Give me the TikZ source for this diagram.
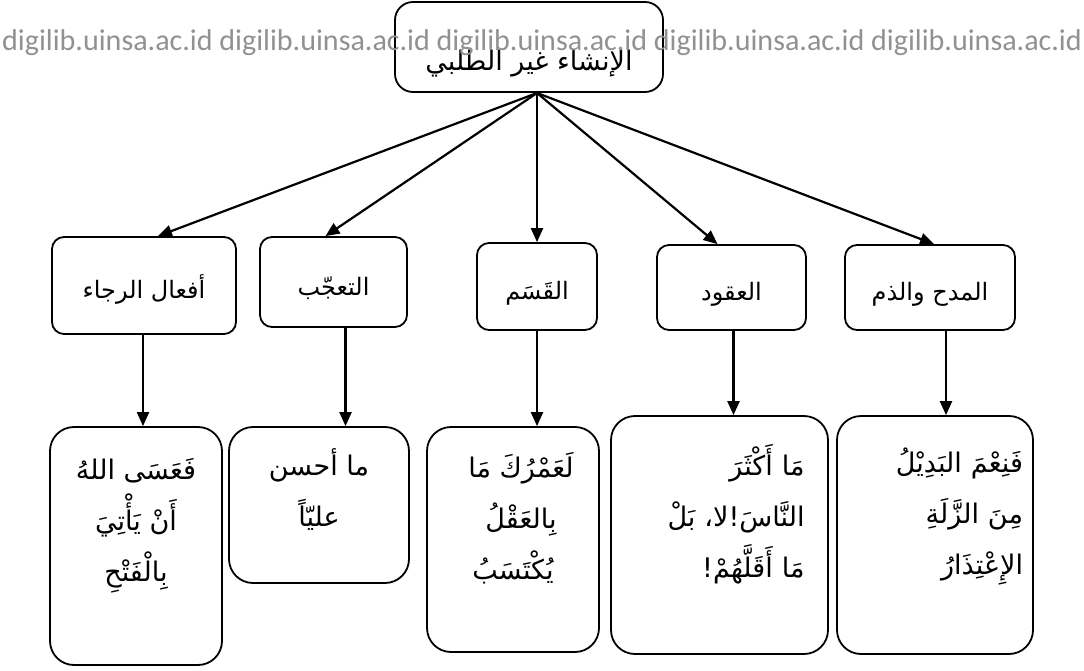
\documentclass[tikz,border=0pt]{standalone}
\usepackage{fontspec}
\usepackage{graphicx}
\usetikzlibrary{arrows.meta}
\TeXXeTstate=1
\newfontfamily\arabicfont[Script=Arabic]{DejaVu Sans}
\newfontfamily\wmfont{Carlito}
\definecolor{wmgray}{RGB}{145,145,145}
\newcommand{\lift}[1]{\rule[-#1]{0pt}{0pt}}
\begin{document}
\begin{tikzpicture}[x=1pt,y=-1pt,
  box/.style={draw, line width=1.8pt, rounded corners=12pt, inner sep=0pt, align=center,
    font=\arabicfont\fontsize{24}{30}\selectfont, text height=30pt, text depth=4pt},
  bigbox/.style={draw, line width=1.8pt, rounded corners=24pt, inner sep=0pt,
    font=\arabicfont\fontsize{27}{51}\selectfont},
  arr/.style={line width=2.2pt, -{Triangle[length=14pt,width=12pt]}},
  wm/.style={inner sep=0pt, text=wmgray, font=\wmfont},
]
\useasboundingbox (0,0) rectangle (1084,671);

% top
\node[box, rounded corners=18pt, minimum width=268pt, minimum height=90pt,
  font=\arabicfont\fontsize{27}{30}\selectfont, text height=58pt, text depth=10pt] (top) at (529,47)
  {\beginR الإنشاء غير الطلبي\endR};
\coordinate (hub) at (537,93);

% middle row
\node[box, minimum width=184pt, minimum height=97pt] (m1) at (144,285.5) {\beginR أفعال الرجاء\endR};
\node[box, minimum width=147pt, minimum height=90pt] (m2) at (333.5,282) {\beginR التعجّب\endR};
\node[box, minimum width=120pt, minimum height=87pt] (m3) at (537,286.5) {\beginR القَسَم\endR};
\node[box, minimum width=149pt, minimum height=85pt] (m4) at (731.5,287.5) {\beginR العقود\endR};
\node[box, minimum width=170pt, minimum height=85pt] (m5) at (930,287.5) {\beginR المدح والذم\endR};

% bottom row
\node[bigbox, align=center, minimum width=172pt, minimum height=238pt] (b1) at (136,546)
  {\beginR فَعَسَى اللهُ\endR\\\beginR أَنْ يَأْتِيَ\endR\\\beginR بِالْفَتْحِ\endR\lift{52pt}};
\node[bigbox, align=center, minimum width=180pt, minimum height=156pt] (b2) at (319,505)
  {\beginR ما أحسن\endR\\\beginR عليّاً\endR\lift{34pt}};
\node[bigbox, align=center, minimum width=172pt, minimum height=225pt] (b3) at (513,539.5)
  {\hspace*{16pt}\beginR لَعَمْرُكَ مَا\endR\\\hspace*{16pt}\beginR بِالعَقْلُ\endR\\\beginR يُكْتَسَبُ\endR\lift{48pt}};
\node[bigbox, align=right, text width=170pt, minimum width=217pt, minimum height=238pt] (b4) at (719.5,535)
  {\beginR مَا أَكْثَرَ\endR\\\beginR النَّاسَ!لا، بَلْ\endR\\\beginR مَا أَقَلَّهُمْ!\endR\lift{48pt}};
\node[bigbox, align=right, text width=176pt, minimum width=196pt, minimum height=238pt] (b5) at (935,535)
  {\beginR فَنِعْمَ البَدِيْلُ\endR\\\beginR مِنَ الزَّلَةِ\endR\\\beginR الإِعْتِذَارُ\endR\lift{48pt}};

% connectors from top
\draw[arr] (hub) -- ([xshift=14pt]m1.north);
\draw[arr] (hub) -- ([xshift=-8pt]m2.north);
\draw[arr] (hub) -- (m3.north);
\draw[arr] (hub) -- ([xshift=-14pt]m4.north);
\draw[arr] (hub) -- ([xshift=4pt]m5.north);

% connectors down
\draw[arr] ([xshift=-1pt]m1.south) -- ([xshift=-1pt]m1.south |- b1.north);
\draw[arr] ([xshift=12pt]m2.south) -- ([xshift=12pt]m2.south |- b2.north);
\draw[arr] (m3.south) -- (m3.south |- b3.north);
\draw[arr] ([xshift=2pt]m4.south) -- ([xshift=2pt]m4.south |- b4.north);
\draw[arr] ([xshift=16pt]m5.south) -- ([xshift=16pt]m5.south |- b5.north);

% watermark
\node[wm, anchor=base west] (wmark) at (2,51)
  {\resizebox{1080pt}{!}{digilib.uinsa.ac.id digilib.uinsa.ac.id digilib.uinsa.ac.id digilib.uinsa.ac.id digilib.uinsa.ac.id}};
\end{tikzpicture}
\end{document}
